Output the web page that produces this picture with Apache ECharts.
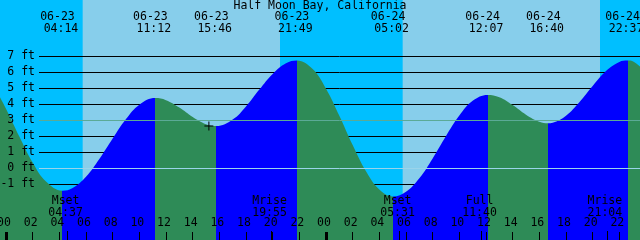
<!DOCTYPE html>
<html><head><meta charset="utf-8">
<script src="https://cdn.jsdelivr.net/npm/echarts@6/dist/echarts.min.js"></script>
<style>html,body{margin:0;padding:0;background:#87CEEB}#c{width:640px;height:240px}</style>
</head><body><div id="c"></div>
<script>
// ---------- data ----------
const chartTitle = 'Half Moon Bay, California';
const tideDates   = ['06-23','06-23','06-23','06-23','06-24','06-24','06-24','06-24'];
const tideTimes   = ['04:14','11:12','15:46','21:49','05:02','12:07','16:40','22:37'];
const tideKinds   = ['low','high','low','high','low','high','low','high'];
const moonDates   = ['06-23','06-23','06-24','06-24','06-24'];
const moonTimes   = ['04:37','19:55','05:31','11:40','21:04'];
const moonNames   = ['Mset','Mrise','Mset','Full','Mrise'];
const sunriseStamps = ['06-23 05:45','06-24 05:45'];
const sunsetStamps  = ['06-23 20:33','06-24 20:33'];
// tide curve: hours since 06-23 00:00 and water level (ft)
const curveHours  = [-1,0,1,2,3,4.233,5,6,7,8,9,10,11.2,12,13,14,15,15.767,17,18,19,20,21,21.817,23,24,25,26,27,28,29.033,30,31,32,33,34,35,36.117,37,38,39,40,40.667,41,42,43,44,45,46,46.617,47,48];
const curveLevels = [5.26,3.71,1.97,0.34,-0.85,-1.42,-1.25,-0.55,0.56,1.84,3.06,3.96,4.37,4.24,3.78,3.19,2.74,2.62,3.03,3.85,4.90,5.88,6.55,6.72,6.18,4.95,3.26,1.43,-0.21,-1.35,-1.78,-1.48,-0.64,0.60,2.00,3.28,4.20,4.57,4.42,3.93,3.33,2.89,2.80,2.83,3.27,4.11,5.13,6.06,6.63,6.72,6.67,5.96];
const depthMin = -1, depthMax = 7;
const datumLevel = 0, mslLevel = 3;
const hourTicks = [0,2,4,6,8,10,12,14,16,18,20,22,24,26,28,30,32,34,36,38,40,42,44,46];
const midnightTicks = [0,24];
const nowStamp = '06-23 15:13', nowLevel = 2.62;

// ---------- helpers ----------
const toH = s => { const [d,t] = s.split(' '); const day = +d.split('-')[1] - 23; const [hh,mm] = t.split(':').map(Number); return day*24 + hh + mm/60; };
const tideH = tideDates.map((d,i) => toH(d + ' ' + tideTimes[i]));
const moonH = moonDates.map((d,i) => toH(d + ' ' + moonTimes[i]));
const rise = sunriseStamps.map(toH), set = sunsetStamps.map(toH);
const nowH = toH(nowStamp);

const X_MIN = -0.45, X_MAX = 47.55;
const Y_MIN = -4.5, Y_MAX = 10.5;
const FONT = "'DejaVu Sans Mono', monospace";
const FS = 11.5;
const DAY = '#87CEEB', NIGHT = '#00BFFF', RISE = '#0000FF', FALL = '#2E8B57';
const DATUM = '#9AD4EA', MSL = '#5BAA96';

const nightBands = [[X_MIN, rise[0]], [set[0], rise[1]], [set[1], X_MAX]];
const pieces = [];
tideH.forEach((h,i) => {
  const color = tideKinds[i] === 'low' ? FALL : RISE;
  if (i === 0) pieces.push({lt: h, color}); else pieces.push({gte: tideH[i-1], lt: h, color});
});
pieces.push({gte: tideH[tideH.length-1], color: tideKinds[tideKinds.length-1] === 'low' ? RISE : FALL});

const pad2 = n => String(n).padStart(2,'0');
const findIdx = (arr, v) => arr.findIndex(a => Math.abs(a - v) < 1e-6);
const txt = {fontFamily: FONT, fontSize: FS, color: '#000', lineHeight: 12};

const baseX = (grid, extra) => Object.assign({
  type: 'value', gridIndex: grid, min: X_MIN, max: X_MAX, z: 10,
  axisLine: {show: false, onZero: false}, splitLine: {show: false}, axisTick: {show: false}, axisLabel: {show: false}
}, extra);
const hiddenY = grid => ({type: 'value', gridIndex: grid, min: Y_MIN, max: Y_MAX, show: false});
const fullGrid = {left: 0, right: 0, top: 0, bottom: 0, outerBoundsMode: 'none', containLabel: false};

const depthColors = [];
for (let v = depthMin; v <= depthMax; v++) depthColors.push(v === datumLevel ? DATUM : v === mslLevel ? MSL : 'rgba(0,0,0,0)');

const option = {
  animation: false,
  backgroundColor: DAY,
  title: {text: chartTitle, left: 'center', top: 0, padding: 0, textStyle: Object.assign({fontWeight: 'normal'}, txt)},
  grid: [
    fullGrid,
    {left: 39, right: 0, top: 56, bottom: 56, outerBoundsMode: 'none', containLabel: false},
    fullGrid, fullGrid, fullGrid
  ],
  visualMap: {type: 'piecewise', show: false, seriesIndex: 1, dimension: 0, pieces},
  xAxis: [
    baseX(0, {position: 'bottom',
      axisTick: {show: true, inside: true, length: 8, customValues: hourTicks, lineStyle: {color: '#000', width: 1}},
      axisLabel: {show: true, inside: true, margin: 11, customValues: hourTicks, padding: [0,4,0,0],
        formatter: v => pad2(Math.round(v) % 24), ...txt}}),
    {type: 'value', gridIndex: 1, min: 0, max: 1, show: false, axisLine: {onZero: false}},
    baseX(2, {position: 'bottom',
      axisTick: {show: true, inside: true, length: 8, customValues: midnightTicks, lineStyle: {color: '#000', width: 3}}}),
    baseX(3, {position: 'bottom',
      axisTick: {show: true, inside: true, length: 9, customValues: moonH, lineStyle: {color: '#000', width: 1}},
      axisLabel: {show: true, inside: true, margin: 21, customValues: moonH, padding: [0,4,0,0],
        formatter: v => { const i = findIdx(moonH, v); return i < 0 ? '' : moonNames[i] + '\n' + moonTimes[i]; }, ...txt}}),
    baseX(4, {position: 'top',
      axisLabel: {show: true, inside: true, margin: 11, customValues: tideH, padding: [0,3,0,0],
        formatter: v => { const i = findIdx(tideH, v); return i < 0 ? '' : tideDates[i] + ' \n' + tideTimes[i]; }, ...txt}})
  ],
  yAxis: [
    hiddenY(0),
    {type: 'value', gridIndex: 1, position: 'left', min: depthMin, max: depthMax, interval: 1, z: 1,
      axisLine: {show: false, onZero: false}, axisTick: {show: false}, axisLabel: {show: false},
      splitLine: {show: true, lineStyle: {color: '#000', width: 1}}},
    {type: 'value', gridIndex: 1, position: 'left', offset: 0, min: depthMin, max: depthMax, interval: 1, z: 10,
      axisLine: {show: false, onZero: false}, axisTick: {show: false},
      axisLabel: {show: true, margin: 4, formatter: v => v + ' ft', ...txt},
      splitLine: {show: true, lineStyle: {color: depthColors, width: 1}}},
    hiddenY(2), hiddenY(3), hiddenY(4)
  ],
  series: [
    {type: 'line', xAxisIndex: 0, yAxisIndex: 0, data: [], silent: true, z: 0,
      markArea: {silent: true, z: 0, itemStyle: {color: NIGHT, opacity: 1, borderWidth: 0},
        data: nightBands.map(([a,b]) => [{xAxis: a}, {xAxis: b}])}},
    {type: 'line', xAxisIndex: 0, yAxisIndex: 0, z: 3, silent: true,
      data: curveHours.map((h,i) => [h, curveLevels[i]]),
      smooth: 0.4, showSymbol: false, lineStyle: {width: 0},
      areaStyle: {opacity: 1, origin: 'start'}},
    {type: 'scatter', xAxisIndex: 0, yAxisIndex: 0, z: 6, silent: true,
      data: [[nowH, nowLevel]],
      symbol: 'path://M0,4H9V5H0Z M4,0H5V9H4Z', symbolSize: 9,
      itemStyle: {color: '#000', opacity: 1}}
  ]
};
const chart = echarts.init(document.getElementById('c'), null, {renderer: 'canvas'});
chart.setOption(option);
</script></body></html>
